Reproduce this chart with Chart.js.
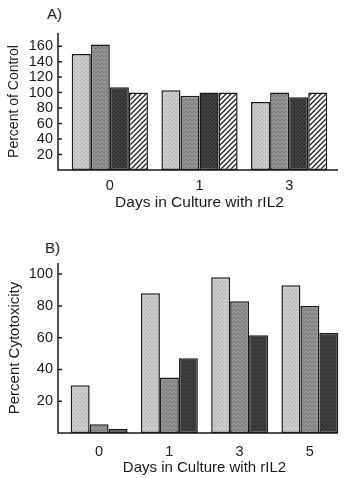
<!DOCTYPE html>
<html>
<head>
<meta charset="utf-8">
<script src="https://cdn.jsdelivr.net/npm/chart.js@4"></script>
<style>
body{margin:0;background:#fff;width:347px;height:478px;position:relative;overflow:hidden;font-family:"Liberation Sans",Arial,sans-serif;color:#222}
.panel{position:absolute;left:0}
.tag{position:absolute;font-size:15px}
</style>
</head>
<body>
<div class="tag" style="left:47px;top:5px">A)</div>
<canvas id="chartA" class="panel" style="top:0" width="347" height="230"></canvas>
<div class="tag" style="left:45px;top:239px">B)</div>
<canvas id="chartB" class="panel" style="top:230px" width="347" height="248"></canvas>
<script>
// panel A
const daysA = ['0', '1', '3'];
const lightA = [150, 103, 88];
const mediumA = [162, 96, 100];
const darkA = [107, 100, 94];
const hatchA = [100, 100, 100];
const ticksA = [20, 40, 60, 80, 100, 120, 140, 160];

// panel B
const daysB = ['0', '1', '3', '5'];
const lightB = [30, 88, 98, 93];
const mediumB = [5.5, 35, 83, 80];
const darkB = [2.5, 47, 61.5, 63];
const ticksB = [20, 40, 60, 80, 100];

const ink = '#1a1a1a';
const fontFam = '"Liberation Sans", Arial, sans-serif';

function stipple(base, dot) {
  const c = document.createElement('canvas');
  c.width = 4; c.height = 4;
  const g = c.getContext('2d');
  g.fillStyle = base; g.fillRect(0, 0, 4, 4);
  g.fillStyle = dot;
  g.fillRect(0, 0, 1, 1); g.fillRect(2, 2, 1, 1);
  g.fillRect(3, 0, 1, 1); g.fillRect(1, 3, 1, 1);
  return g.createPattern(c, 'repeat');
}

function hatch() {
  const c = document.createElement('canvas');
  c.width = 5; c.height = 5;
  const g = c.getContext('2d');
  g.fillStyle = '#fff'; g.fillRect(0, 0, 5, 5);
  g.strokeStyle = '#222'; g.lineWidth = 1.3;
  g.beginPath();
  g.moveTo(-1, 6); g.lineTo(6, -1);
  g.moveTo(-1, 1); g.lineTo(1, -1);
  g.moveTo(4, 6); g.lineTo(6, 4);
  g.stroke();
  return g.createPattern(c, 'repeat');
}

const fillLight = stipple('#cdcdcd', '#b2b2b2');
const fillMedium = stipple('#939393', '#747474');
const fillDark = stipple('#404040', '#2c2c2c');
const fillHatch = hatch();

// axis lines drawn a few pixels left of the bars, with inward tick marks
const axisLines = {
  id: 'axisLines',
  afterDatasetsDraw(chart, args, opts) {
    const {ctx, chartArea: a, scales: {y}} = chart;
    const x0 = a.left - opts.gap;
    ctx.save();
    ctx.strokeStyle = ink;
    ctx.lineWidth = 1.5;
    ctx.beginPath();
    ctx.moveTo(x0, a.top);
    ctx.lineTo(x0, a.bottom);
    ctx.lineTo(a.right + opts.extend, a.bottom);
    y.ticks.forEach(t => {
      const py = y.getPixelForValue(t.value);
      ctx.moveTo(x0, py);
      ctx.lineTo(x0 + 4, py);
    });
    ctx.stroke();
    ctx.restore();
  }
};

function ds(data, fill) {
  return {
    data: data,
    backgroundColor: fill,
    borderColor: ink,
    borderWidth: 1.5,
    borderSkipped: false
  };
}

function makeChart(id, cfg) {
  return new Chart(document.getElementById(id), {
    type: 'bar',
    data: {labels: cfg.labels, datasets: cfg.datasets},
    plugins: [axisLines],
    options: {
      responsive: false,
      animation: false,
      layout: {padding: cfg.padding},
      datasets: {bar: {categoryPercentage: cfg.catPct, barPercentage: 1}},
      plugins: {
        legend: {display: false},
        tooltip: {enabled: false},
        axisLines: {gap: cfg.gap, extend: cfg.extend}
      },
      scales: {
        x: {
          grid: {display: false, drawTicks: false},
          border: {display: false},
          ticks: {color: ink, padding: cfg.xTickPad, font: {family: fontFam, size: 14.5}},
          title: {display: true, text: 'Days in Culture with rIL2', color: ink, padding: {top: 0, bottom: 0}, font: {family: fontFam, size: cfg.xTitleSize}},
          afterFit(s) { s.height = cfg.xHeight; }
        },
        y: {
          min: 0,
          max: cfg.max,
          grid: {display: false, drawTicks: false},
          border: {display: false},
          afterBuildTicks(s) { s.ticks = cfg.ticks.map(v => ({value: v})); },
          ticks: {color: ink, padding: cfg.yTickPad, autoSkip: false, font: {family: fontFam, size: 14.5}},
          title: {display: true, text: cfg.yTitle, color: ink, padding: {top: 6, bottom: 0}, font: {family: fontFam, size: cfg.yTitleSize}},
          afterFit(s) { s.width = cfg.yWidth; }
        }
      }
    }
  });
}

makeChart('chartA', {
  labels: daysA,
  datasets: [ds(lightA, fillLight), ds(mediumA, fillMedium), ds(darkA, fillDark), ds(hatchA, fillHatch)],
  ticks: ticksA,
  max: 177,
  yTitle: 'Percent of Control',
  xTitleSize: 15.5,
  yTitleSize: 14,
  padding: {top: 33, right: 13, bottom: 18, left: 0},
  catPct: 0.85,
  xHeight: 42,
  xTickPad: 7,
  yTickPad: 12,
  yWidth: 65,
  gap: 7,
  extend: 4
});

makeChart('chartB', {
  labels: daysB,
  datasets: [ds(lightB, fillLight), ds(mediumB, fillMedium), ds(darkB, fillDark)],
  ticks: ticksB,
  max: 107,
  yTitle: 'Percent Cytotoxicity',
  xTitleSize: 15,
  yTitleSize: 15,
  padding: {top: 33, right: 2, bottom: 1, left: 0},
  catPct: 0.81,
  xHeight: 44,
  xTickPad: 10,
  yTickPad: 11,
  yWidth: 64,
  gap: 6,
  extend: -7
});
</script>
</body>
</html>
